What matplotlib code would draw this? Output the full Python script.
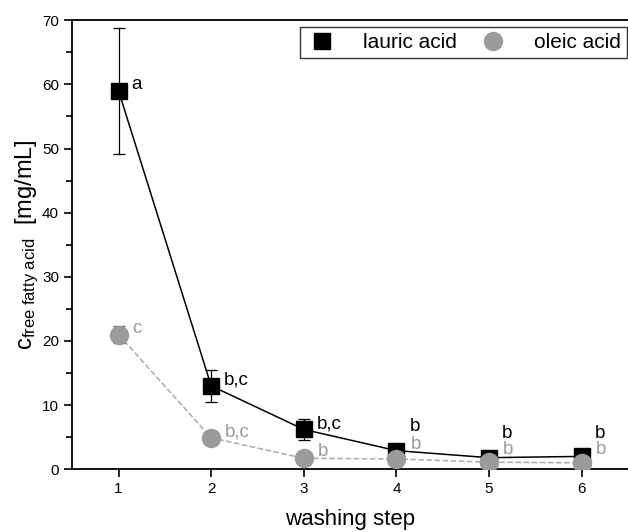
import numpy as np
import matplotlib
matplotlib.use('Agg')
import matplotlib.pyplot as plt
from matplotlib.ticker import MultipleLocator
from matplotlib.lines import Line2D

plt.rcParams['font.family'] = ['Liberation Sans', 'DejaVu Sans']
plt.rcParams['mathtext.fontset'] = 'custom'
plt.rcParams['mathtext.rm'] = 'Liberation Sans'
plt.rcParams['mathtext.it'] = 'Liberation Sans'

# data
steps = [1, 2, 3, 4, 5, 6]
lauric = [59.0, 13.0, 6.2, 2.9, 1.8, 2.0]
lauric_err = [9.8, 2.5, 1.7, 0.6, 0.5, 0.5]
oleic = [21.0, 4.9, 1.7, 1.6, 1.1, 1.0]
oleic_err = [1.3, 0.3, 0.3, 0.5, 0.5, 0.6]
lauric_lbl = ['a', 'b,c', 'b,c', 'b', 'b', 'b']
lauric_lbl_y = [60.0, 13.9, 7.0, 6.6, 5.5, 5.5]
oleic_lbl = ['c', 'b,c', 'b', 'b', 'b', 'b']
oleic_lbl_y = [22.0, 5.8, 2.7, 3.9, 3.0, 3.0]

fig = plt.figure(figsize=(6.28, 5.32), dpi=100)
ax = fig.add_axes([0.115, 0.118, 0.885, 0.844])

gray = '#9b9b9b'
ax.errorbar(steps, oleic, yerr=oleic_err, fmt='o', color=gray, ecolor='#555555',
            elinewidth=0.9, capsize=4.5, capthick=0.9, markersize=13, zorder=3)
ax.plot(steps, oleic, '--', color='#aaaaaa', lw=1.1, zorder=2)
ax.errorbar(steps, lauric, yerr=lauric_err, fmt='s', color='black', ecolor='black',
            elinewidth=0.9, capsize=4.5, capthick=0.9, markersize=11.5, zorder=2)
ax.plot(steps, lauric, '-', color='black', lw=1.1, zorder=2)

for x, t, y in zip(steps, lauric_lbl, lauric_lbl_y):
    ax.text(x + 0.14, y, t, fontsize=13.5, color='black', ha='left', va='center')
for x, t, y in zip(steps, oleic_lbl, oleic_lbl_y):
    ax.text(x + 0.15, y, t, fontsize=13.5, color=gray, ha='left', va='center')

ax.set_xlim(0.5, 6.5)
ax.set_ylim(0, 70)
ax.set_xticks(steps)
ax.yaxis.set_major_locator(MultipleLocator(10))
ax.yaxis.set_minor_locator(MultipleLocator(5))
ax.tick_params(axis='both', which='major', direction='out', length=6, width=1.2, labelsize=11)
ax.tick_params(axis='y', which='minor', direction='out', length=4, width=1.2)
ax.spines['right'].set_visible(False)
for s in ['left', 'bottom', 'top']:
    ax.spines[s].set_linewidth(1.3)

ax.set_xlabel('washing step', fontsize=16, labelpad=9)
ax.set_ylabel(r'c$_{\mathrm{free\ fatty\ acid}}$  [mg/mL]', fontsize=17, labelpad=1)

handles = [Line2D([], [], ls='none', marker='s', color='black', markersize=11.5),
           Line2D([], [], ls='none', marker='o', color=gray, markersize=13)]
leg = ax.legend(handles, ['lauric acid', 'oleic acid'], ncol=2, loc='upper right',
                bbox_to_anchor=(0.998, 0.985), borderaxespad=0, fontsize=15,
                frameon=True, fancybox=False, edgecolor='black', handlelength=1.5,
                columnspacing=1.0, handletextpad=1.2, borderpad=0.3)
leg.get_frame().set_linewidth(1.0)

fig.savefig('out.png', dpi=100)
